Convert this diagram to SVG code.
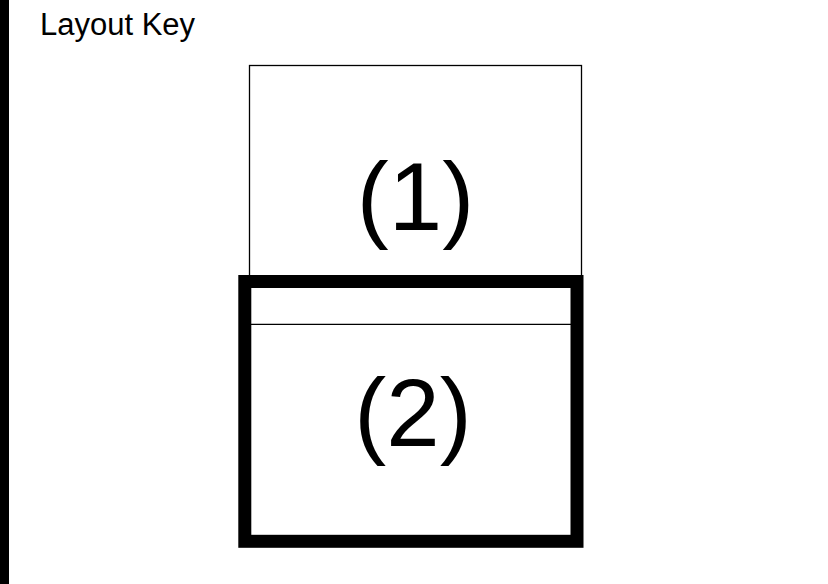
<svg xmlns="http://www.w3.org/2000/svg" width="828" height="584" viewBox="0 0 828 584">
  <style>
    .lbl { font-family: "Liberation Sans", Arial, Helvetica, sans-serif; fill: #000; }
    .big { font-size: 96px; text-anchor: middle; }
    .title { font-size: 31px; }
    .thin { fill: none; stroke: #000; stroke-width: 1.3; }
    .thick { fill: none; stroke: #000; stroke-width: 13; }
  </style>
  <rect x="0" y="0" width="828" height="584" fill="#fff"/>
  <!-- left margin bar -->
  <rect x="0" y="0" width="9" height="584" fill="#000"/>
  <text class="lbl title" x="40" y="35">Layout Key</text>

  <!-- region 1: upper panel -->
  <g id="panel1">
    <rect class="thin" x="249.5" y="65.5" width="332" height="215"/>
    <text class="lbl big" x="415.5" y="230">(1)</text>
  </g>

  <!-- region 2: lower panel with thick frame and header strip -->
  <g id="panel2">
    <rect x="244.8" y="281.5" width="332.2" height="259.8" fill="#fff"/>
    <rect class="thick" x="244.8" y="281.5" width="332.2" height="259.8"/>
    <line class="thin" x1="251" y1="324.3" x2="571" y2="324.3"/>
    <text class="lbl big" x="413" y="446">(2)</text>
  </g>
</svg>
